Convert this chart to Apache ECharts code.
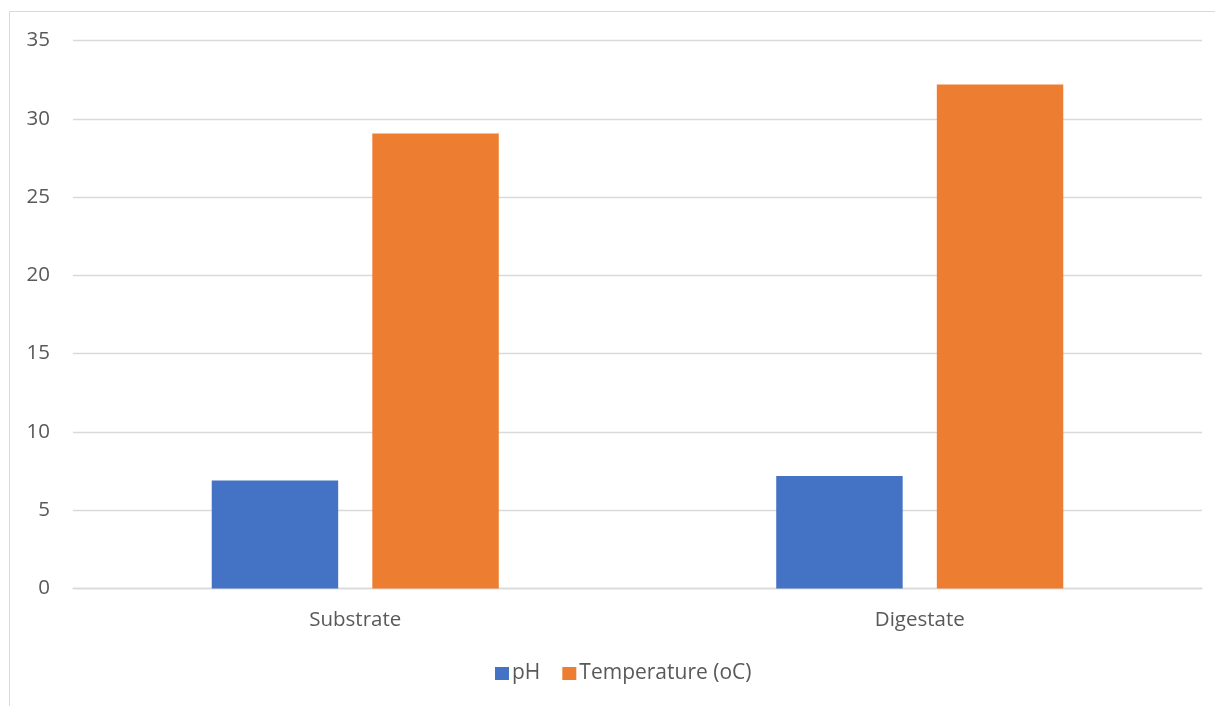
<!DOCTYPE html>
<html>
<head>
<meta charset="utf-8">
<script src="https://cdn.jsdelivr.net/npm/echarts@6/dist/echarts.min.js"></script>
<style>
html,body{margin:0;padding:0;background:#fff;}
#chart{width:1215px;height:706px;}
</style>
</head>
<body>
<div id="chart"></div>
<script>
const categories = ['Substrate', 'Digestate'];
const phValues = [6.89, 7.18];
const tempValues = [29.06, 32.19];
const seriesNames = ['pH', 'Temperature (oC)'];

const chart = echarts.init(document.getElementById('chart'), null, {renderer: 'canvas'});
const font = '"Open Sans", "Liberation Sans", sans-serif';
chart.setOption({
  animation: false,
  graphic: [{
    type: 'rect',
    shape: {x: 9.5, y: 11.5, width: 1400, height: 900},
    style: {fill: 'none', stroke: '#d9d9d9', lineWidth: 1},
    silent: true
  }],
  grid: {left: 73, right: 13, top: 40.5, bottom: 117.5, containLabel: false},
  legend: {
    data: seriesNames,
    bottom: 17,
    left: 490,
    itemWidth: 14,
    itemHeight: 13,
    itemGap: 22,
    icon: 'rect',
    textStyle: {fontFamily: font, fontSize: 21, color: '#595959', padding: [0, 0, 0, -2]}
  },
  xAxis: {
    type: 'category',
    data: categories,
    axisLine: {show: true, lineStyle: {color: '#d9d9d9', width: 1.3}},
    axisTick: {show: false},
    axisLabel: {fontFamily: font, fontSize: 20.5, color: '#595959', margin: 21}
  },
  yAxis: {
    type: 'value',
    min: 0,
    max: 35,
    interval: 5,
    axisLine: {show: false},
    axisTick: {show: false},
    splitLine: {lineStyle: {color: '#d9d9d9', width: 1.3}},
    axisLabel: {fontFamily: font, fontSize: 20.5, color: '#595959', margin: 23}
  },
  series: [
    {
      name: seriesNames[0],
      type: 'bar',
      data: phValues,
      barWidth: '22.4%',
      barGap: '27%',
      itemStyle: {color: '#4472c4'}
    },
    {
      name: seriesNames[1],
      type: 'bar',
      data: tempValues,
      barWidth: '22.4%',
      itemStyle: {color: '#ed7d31'}
    }
  ]
});
</script>
</body>
</html>
